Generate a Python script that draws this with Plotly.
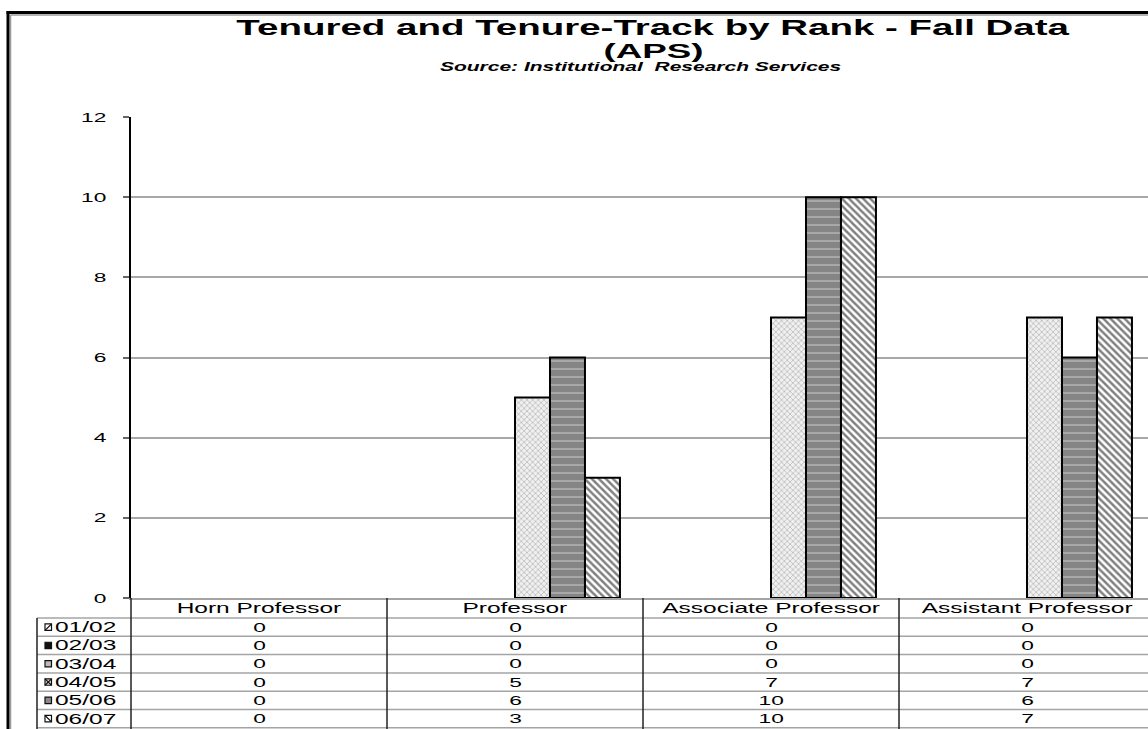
import plotly.graph_objects as go

# ---- data -------------------------------------------------------------
RANKS = ["Horn Professor", "Professor", "Associate Professor", "Assistant Professor"]
YEARS = ["01/02", "02/03", "03/04", "04/05", "05/06", "06/07"]

FY01_02 = [0, 0, 0, 0]
FY02_03 = [0, 0, 0, 0]
FY03_04 = [0, 0, 0, 0]
FY04_05 = [0, 5, 7, 7]
FY05_06 = [0, 6, 10, 6]
FY06_07 = [0, 3, 10, 7]
SERIES = [FY01_02, FY02_03, FY03_04, FY04_05, FY05_06, FY06_07]

Y_TICKS = [0, 2, 4, 6, 8, 10, 12]

TITLE = "Tenured and Tenure-Track by Rank - Fall Data"
TITLE_2 = "(APS)"
SUBTITLE = "Source: Institutional  Research Services"

# ---- geometry (pixels) ------------------------------------------------
W, H = 1148, 729
PLOT_L, PLOT_R = 131, 1148
PLOT_T, PLOT_B = 117, 598
CAT_W = 256                 # width of one category band
ROW_TOP, ROW_H = 618, 18.3  # data table rows under the axis
FONT = "Liberation Sans, Arial, sans-serif"
TEXT_STRETCH = 1.75         # wide, Excel-like lettering


def px_x(px):
    return (px - PLOT_L) / (PLOT_R - PLOT_L)


def px_y(py):
    return (PLOT_B - py) / (PLOT_B - PLOT_T)


# ---- bar fills per school year -----------------------------------------
PATTERNS = [
    dict(shape="/", fgcolor="#333333", bgcolor="white", size=5, solidity=0.3),
    dict(shape="", fgcolor="#111111", bgcolor="#111111"),
    dict(shape="", fgcolor="#bbbbbb", bgcolor="#bbbbbb"),
    dict(shape="x", fgcolor="#777777", bgcolor="#f0f0f0", size=4, solidity=0.32),
    dict(shape="-", fgcolor="#f4f4f4", bgcolor="#858585", size=8, solidity=0.16),
    dict(shape="\\", fgcolor="#000000", bgcolor="white", size=5, solidity=0.48),
]
KEY_FILLS = ["#ffffff", "#111111", "#bbbbbb", "#dddddd", "#8a8a8a", "#ffffff"]
KEY_MARKS = ["/", "", "", "x", "", "\\"]

fig = go.Figure()
positions = list(range(len(RANKS)))
for name, values, pat in zip(YEARS, SERIES, PATTERNS):
    # empty cells (zero) get no bar at all, only their table entry
    heights = [v if v else None for v in values]
    fig.add_trace(go.Bar(
        x=positions, y=heights, name=name,
        marker=dict(color=pat["bgcolor"], pattern=pat,
                    line=dict(color="black", width=2)),
        hoverinfo="skip",
    ))

shapes = []
annotations = []

# outer chart frame with its soft shadow
shapes += [
    dict(type="line", xref="paper", yref="paper", x0=px_x(10.5), x1=px_x(10.5),
         y0=px_y(15), y1=px_y(740), line=dict(color="#9a9a9a", width=1.5)),
    dict(type="line", xref="paper", yref="paper", x0=px_x(10.5), x1=px_x(1160),
         y0=px_y(15), y1=px_y(15), line=dict(color="#9a9a9a", width=1.5)),
    dict(type="line", xref="paper", yref="paper", x0=px_x(8), x1=px_x(8),
         y0=px_y(11), y1=px_y(740), line=dict(color="black", width=3)),
    dict(type="line", xref="paper", yref="paper", x0=px_x(6.5), x1=px_x(1160),
         y0=px_y(12.5), y1=px_y(12.5), line=dict(color="black", width=3)),
]

# data table grid
n_rows = len(YEARS)
for i in range(n_rows + 1):
    yy = ROW_TOP + i * ROW_H
    shapes.append(dict(type="line", xref="paper", yref="paper",
                       x0=px_x(37), x1=px_x(1160), y0=px_y(yy), y1=px_y(yy),
                       line=dict(color="#a4a4a4", width=1.5)))
shapes.append(dict(type="line", xref="paper", yref="paper",
                   x0=px_x(37), x1=px_x(37), y0=px_y(ROW_TOP), y1=px_y(740),
                   line=dict(color="#222222", width=1.5)))
shapes.append(dict(type="line", xref="paper", yref="paper",
                   x0=0, x1=0, y0=0, y1=px_y(740),
                   line=dict(color="#222222", width=1.5)))
for k in range(1, len(RANKS)):
    shapes.append(dict(type="line", xref="x", yref="paper",
                       x0=k - 0.5, x1=k - 0.5, y0=0, y1=px_y(740),
                       line=dict(color="#222222", width=1.5)))

# column headers
for pos, rank in zip(positions, RANKS):
    annotations.append(dict(x=pos, y=px_y(608), xref="x", yref="paper",
                            text=rank, showarrow=False, xanchor="center",
                            yanchor="middle", font=dict(family=FONT, size=14, color="black")))

# table rows: legend key, series name, then one value per rank
for i, (name, values) in enumerate(zip(YEARS, SERIES)):
    yc = ROW_TOP + (i + 0.5) * ROW_H
    x0, x1 = 45, 51.5
    y0, y1 = yc - 3.2, yc + 3.2
    shapes.append(dict(type="rect", xref="paper", yref="paper",
                       x0=px_x(x0), x1=px_x(x1), y0=px_y(y0), y1=px_y(y1),
                       fillcolor=KEY_FILLS[i], line=dict(color="#111111", width=1.2)))
    mark = KEY_MARKS[i]
    if mark in ("/", "x"):
        shapes.append(dict(type="line", xref="paper", yref="paper",
                           x0=px_x(x0), x1=px_x(x1), y0=px_y(y1), y1=px_y(y0),
                           line=dict(color="#111111", width=1.2)))
    if mark in ("\\", "x"):
        shapes.append(dict(type="line", xref="paper", yref="paper",
                           x0=px_x(x0), x1=px_x(x1), y0=px_y(y0), y1=px_y(y1),
                           line=dict(color="#111111", width=1.2)))
    annotations.append(dict(x=px_x(53), y=px_y(yc), xref="paper", yref="paper",
                            text=name, showarrow=False, xanchor="left", align="left",
                            yanchor="middle", font=dict(family=FONT, size=14, color="black")))
    for pos, v in zip(positions, values):
        annotations.append(dict(x=pos, y=px_y(yc), xref="x", yref="paper",
                                text=str(v), showarrow=False, xanchor="center",
                                yanchor="middle", font=dict(family=FONT, size=13, color="black")))

# titles
annotations += [
    dict(x=px_x(653), y=px_y(27), xref="paper", yref="paper", text="<b>%s</b>" % TITLE,
         showarrow=False, xanchor="center", yanchor="middle",
         font=dict(family=FONT, size=22, color="black")),
    dict(x=px_x(653), y=px_y(50.5), xref="paper", yref="paper", text="<b>%s</b>" % TITLE_2,
         showarrow=False, xanchor="center", yanchor="middle",
         font=dict(family=FONT, size=21, color="black")),
    dict(x=px_x(641), y=px_y(67), xref="paper", yref="paper", text="<b><i>%s</i></b>" % SUBTITLE,
         showarrow=False, xanchor="center", yanchor="middle",
         font=dict(family=FONT, size=12, color="black")),
]

fig.update_layout(
    width=W, height=H,
    margin=dict(l=PLOT_L, r=W - PLOT_R, t=PLOT_T, b=H - PLOT_B, pad=0),
    paper_bgcolor="white", plot_bgcolor="white",
    barmode="group", bargap=0.18, bargroupgap=0,
    showlegend=False,
    shapes=shapes, annotations=annotations,
    font=dict(family=FONT, color="black"),
)
fig.update_xaxes(
    range=[-0.5, -0.5 + (PLOT_R - PLOT_L) / CAT_W],
    showgrid=False, zeroline=False, showticklabels=False, ticks="",
    showline=True, linecolor="#a4a4a4", linewidth=2,
)
fig.update_yaxes(
    range=[0, 12], tickvals=Y_TICKS, ticktext=[str(t) for t in Y_TICKS],
    showgrid=True, gridcolor="#a8a8a8", gridwidth=1.5, zeroline=False,
    showline=True, linecolor="black", linewidth=2,
    ticks="outside", ticklen=6, tickwidth=1.5, tickcolor="#666666",
    ticklabelstandoff=14,
    tickfont=dict(family=FONT, size=13, color="black"),
)

# widen every text run horizontally around its own anchor point
STRETCH_JS = """
var gd = document.getElementById('{plot_id}');
var k = %s;
gd.querySelectorAll('svg text').forEach(function (t) {
  var box = t.getBBox();
  if (!box.width) { return; }
  var anchor = t.getAttribute('text-anchor') || window.getComputedStyle(t).textAnchor || 'start';
  var cx = anchor === 'middle' ? box.x + box.width / 2 :
           (anchor === 'end' ? box.x + box.width : box.x);
  var base = t.getAttribute('transform') || '';
  t.setAttribute('transform', base + ' translate(' + cx + ',0) scale(' + k + ',1) translate(' + (-cx) + ',0)');
});
""" % TEXT_STRETCH

fig.write_html("out.html", post_script=STRETCH_JS, config={"displayModeBar": False})
